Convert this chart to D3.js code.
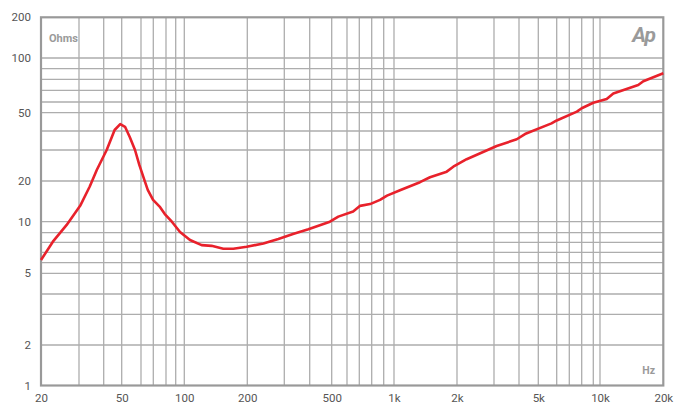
<!DOCTYPE html>
<html>
<head>
<meta charset="utf-8">
<script src="https://cdn.jsdelivr.net/npm/d3@7"></script>
<style>
    body { margin: 0; background: #fff; }
    svg { display: block; }
</style>
</head>
<body>
<div id="container"><svg></svg></div>
<script>
let width = 691;
let height = 405;

let fontFamily = "Roboto, 'Liberation Sans', sans-serif";

// impedance curve
let freq = [20, 22.7, 26.3, 30.4, 34.0, 36.9, 41.5, 45.8, 49.1, 51.6,
    54.0, 56.7, 59.1, 63.1, 65.3, 69.8, 75.2, 79.0, 85.9, 94.9,
    106.5, 121, 135, 153.6, 171.5, 198.7, 238.5, 281, 331, 394,
    491, 541, 648, 706, 786, 868, 931, 1068, 1331, 1486,
    1786, 1920, 2223, 3094, 3898, 4286, 5700, 6000, 7597, 8000,
    9000, 10760, 11570, 15200, 16070, 20000];
let ohms = [6.24, 8.06, 9.7, 13.1, 18.2, 23.1, 30, 40.5, 43.5, 42.1,
    36.4, 30, 24.6, 19.7, 17.2, 14.5, 12.8, 11.4, 10.0, 9.06,
    8.23, 7.7, 7.63, 7.34, 7.34, 7.54, 7.87, 8.33, 8.86, 9.3,
    10.0, 10.9, 11.9, 13.1, 13.5, 14.5, 15.6, 17.1, 19.6, 21.0,
    22.6, 24.1, 26.6, 31.9, 35.3, 38.2, 43.9, 45.5, 50.9, 53.9,
    59.2, 62.4, 67.1, 74.6, 78.1, 85.5];

let xTicks = [20, 50, 100, 200, 500, 1000, 2000, 5000, 10000, 20000];
let xTickLabels = ['20', '50', '100', '200', '500', '1k', '2k', '5k', '10k', '20k'];
let yTicks = [1, 2, 5, 10, 20, 50, 100, 200];
let yTickLabels = ['1', '2', '5', '10', '20', '50', '100', '200'];

// grid values (every 1-9 step of each decade)
let xGrid = [].concat(d3.range(20, 100, 10), d3.range(100, 1000, 100), d3.range(1000, 10000, 1000), [10000, 20000]);
let yGrid = [].concat(d3.range(1, 10, 1), d3.range(10, 100, 10), [100, 200]);

function draw_main() {
    let svg = d3.select('#container').select('svg')
        .attr('width', width)
        .attr('height', height)
        .attr('font-family', fontFamily);

    // the printed grid is not evenly logarithmic, so the log scales are
    // pinned at each grid line (piecewise)
    let x = d3.scaleLog()
        .domain(xGrid)
        .range([41, 79, 103.7, 121.7, 141, 153.3, 166, 175.7,
            184.3, 247.3, 284.3, 309.7, 331.7, 347, 359.3, 371.7, 383.7,
            394, 457, 494, 519, 538.3, 556.7, 569.3, 581.7, 593.3,
            600, 663.3]);
    let y = d3.scaleLog()
        .domain(yGrid)
        .range([385.5, 345, 314.3, 294, 273.3, 262.7, 252.3, 242.3, 232.7,
            221.7, 181, 150, 131, 112.7, 102, 90.3, 79.3, 68.7, 58, 17.3]);

    let x0 = x(20), x1 = x(20000), y0 = y(1), y1 = y(200);

    // grid
    svg.append('g')
        .selectAll('line')
        .data(xGrid.slice(1, -1))
        .enter().append('line')
        .attr('x1', d => x(d)).attr('x2', d => x(d))
        .attr('y1', y1).attr('y2', y0)
        .attr('stroke', '#adadad')
        .attr('stroke-width', 1.3);
    svg.append('g')
        .selectAll('line')
        .data(yGrid.slice(1, -1))
        .enter().append('line')
        .attr('x1', x0).attr('x2', x1)
        .attr('y1', d => y(d)).attr('y2', d => y(d))
        .attr('stroke', '#adadad')
        .attr('stroke-width', 1.3);

    // frame
    svg.append('rect')
        .attr('x', x0).attr('y', y1)
        .attr('width', x1 - x0).attr('height', y0 - y1)
        .attr('fill', 'none')
        .attr('stroke', '#999')
        .attr('stroke-width', 2.2);

    // x axis labels
    let axis_x = d3.axisBottom(x)
        .tickValues(xTicks)
        .tickFormat((d, i) => xTickLabels[i])
        .tickSize(0)
        .tickPadding(8);
    let gx = svg.append('g')
        .attr('transform', `translate(0, ${y0})`)
        .call(axis_x);
    gx.select('.domain').remove();
    gx.selectAll('text')
        .attr('font-family', fontFamily)
        .attr('font-size', '11.5px')
        .attr('fill', '#555');

    // y axis labels
    let axis_y = d3.axisLeft(y)
        .tickValues(yTicks)
        .tickFormat((d, i) => yTickLabels[i])
        .tickSize(0)
        .tickPadding(10);
    let gy = svg.append('g')
        .attr('transform', `translate(${x0}, 0)`)
        .call(axis_y);
    gy.select('.domain').remove();
    gy.selectAll('text')
        .attr('font-family', fontFamily)
        .attr('font-size', '11.5px')
        .attr('fill', '#555');

    // unit labels and logo
    svg.append('text')
        .attr('x', 49).attr('y', 41.5)
        .attr('font-size', '11px')
        .attr('font-weight', 'bold')
        .attr('fill', '#9a9a9a')
        .text('Ohms');
    svg.append('text')
        .attr('x', 655).attr('y', 374)
        .attr('text-anchor', 'end')
        .attr('font-size', '10.5px')
        .attr('font-weight', 'bold')
        .attr('fill', '#9a9a9a')
        .text('Hz');
    svg.append('text')
        .attr('x', 655).attr('y', 42)
        .attr('text-anchor', 'end')
        .attr('font-size', '21px')
        .attr('font-weight', 'bold')
        .attr('font-style', 'italic')
        .attr('letter-spacing', '-1px')
        .attr('fill', '#9a9a9a')
        .text('Ap');

    // impedance curve
    let line = d3.line()
        .x((d, i) => x(freq[i]))
        .y(d => y(d));
    svg.append('path')
        .datum(ohms)
        .attr('d', line)
        .attr('fill', 'none')
        .attr('stroke', '#e8212b')
        .attr('stroke-width', 2.6)
        .attr('stroke-linejoin', 'round');
}

draw_main();
</script>
</body>
</html>
